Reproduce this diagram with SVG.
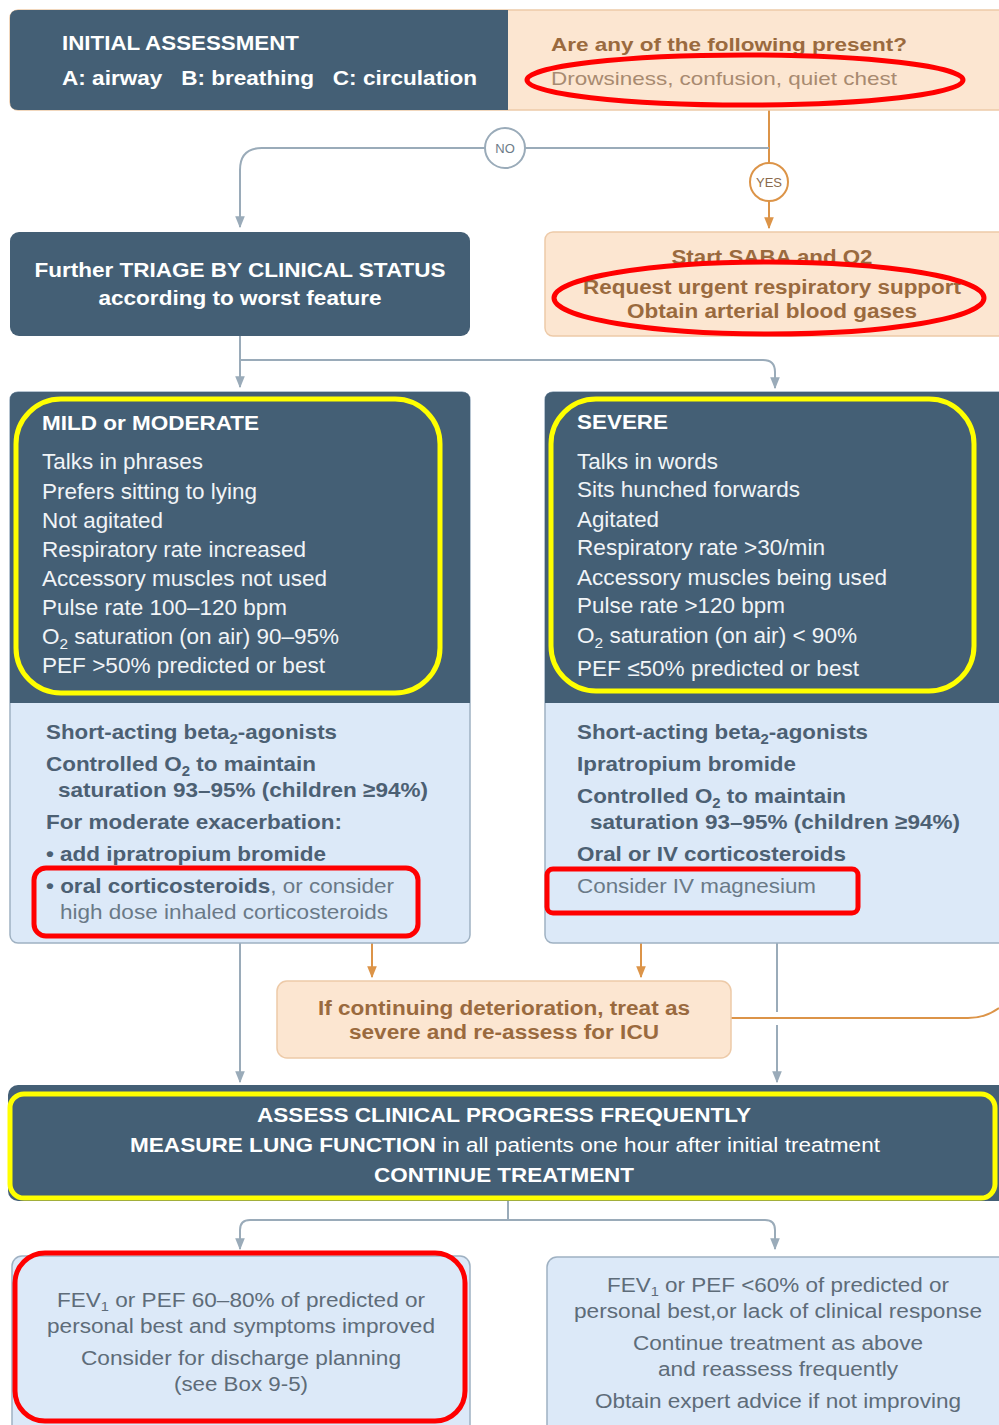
<svg xmlns="http://www.w3.org/2000/svg" width="999" height="1425" viewBox="0 0 999 1425">
  <defs>
    <style>
      .dark { fill: #445f75; }
      .peach { fill: #fce6d1; stroke: #edcaa8; stroke-width: 1.5; }
      .blue { fill: #dce9f8; stroke: #9fb1c2; stroke-width: 1.5; }
      .t { font-family: "Liberation Sans", Arial, sans-serif; }
      .w { fill: #ffffff; }
      .wl { fill: #f1f4f7; }
      .b { font-weight: bold; }
      .brown { fill: #9a6a3e; }
      .brownl { fill: #a88a70; }
      .slate { fill: #4c6073; }
      .grey { fill: #5e6c79; }
      .gline { fill: none; stroke: #9aabb9; stroke-width: 2; }
      .oline { fill: none; stroke: #dc9448; stroke-width: 2; }
      .red { fill: none; stroke: #ff0000; stroke-width: 5; }
      .yel { fill: none; stroke: #ffff00; stroke-width: 5; }
    </style>
    <marker id="ag" viewBox="0 0 10 10" refX="9" refY="5" markerWidth="6" markerHeight="6" orient="auto">
      <path d="M0,1 L10,5 L0,9 z" fill="#9aabb9"/>
    </marker>
    <marker id="ao" viewBox="0 0 10 10" refX="9" refY="5" markerWidth="6" markerHeight="6" orient="auto">
      <path d="M0,1 L10,5 L0,9 z" fill="#dc9448"/>
    </marker>
  </defs>
  <rect width="999" height="1425" fill="#ffffff"/>

  <!-- connectors -->
  <g id="connectors">
    <path class="oline" d="M769,110 V228" marker-end="url(#ao)"/>
    <path class="gline" d="M769,148 H262 Q240,148 240,170 V227" marker-end="url(#ag)"/>
    <path class="gline" d="M240,336 V387" marker-end="url(#ag)"/>
    <path class="gline" d="M240,360 H763 Q775,360 775,372 V388" marker-end="url(#ag)"/>
    <path class="gline" d="M240,943 V1082" marker-end="url(#ag)"/>
    <path class="oline" d="M372,943 V977" marker-end="url(#ao)"/>
    <path class="oline" d="M641,943 V977" marker-end="url(#ao)"/>
    <path class="gline" d="M777,943 V1012 M777,1025 V1082" marker-end="url(#ag)"/>
    <path class="oline" d="M731,1018 H968 Q985,1018 999,1008" stroke="#f0c9a5"/>
    <path class="gline" d="M508,1200 V1220"/>
    <path class="gline" d="M250,1220 H765 Q775,1220 775,1230 V1249" marker-end="url(#ag)"/>
    <path class="gline" d="M250,1220 Q240,1220 240,1230 V1249" marker-end="url(#ag)"/>
    <circle cx="505" cy="148" r="20" fill="#ffffff" stroke="#9aabb9" stroke-width="2"/>
    <text class="t" x="505" y="153" font-size="13" text-anchor="middle" fill="#6d7b88">NO</text>
    <circle cx="769" cy="182" r="19" fill="#ffffff" stroke="#dc9448" stroke-width="2"/>
    <text class="t" x="769" y="187" font-size="13" text-anchor="middle" fill="#8a6a4c">YES</text>
  </g>

  <!-- initial assessment -->
  <g id="initial">
    <rect x="10" y="10" width="1000" height="100" rx="8" class="peach" stroke="none"/>
    <path class="dark" d="M18,10 H508 V110 H18 Q10,110 10,102 V18 Q10,10 18,10 z"/>
    <text class="t w b" x="62" y="50" font-size="20" textLength="237" lengthAdjust="spacingAndGlyphs">INITIAL ASSESSMENT</text>
    <text class="t w b" x="62" y="85" font-size="20" textLength="415" lengthAdjust="spacingAndGlyphs" xml:space="preserve">A: airway   B: breathing   C: circulation</text>
    <text class="t brown b" x="551" y="51" font-size="19" textLength="356" lengthAdjust="spacingAndGlyphs">Are any of the following present?</text>
    <text class="t brownl" x="551" y="85" font-size="19" textLength="346" lengthAdjust="spacingAndGlyphs">Drowsiness, confusion, quiet chest</text>
    <ellipse class="red" cx="745" cy="80" rx="218" ry="25"/>
  </g>

  <!-- triage -->
  <g id="triage">
    <rect x="10" y="232" width="460" height="104" rx="9" class="dark"/>
    <text class="t w b" x="240" y="277" font-size="20" text-anchor="middle" textLength="411" lengthAdjust="spacingAndGlyphs">Further TRIAGE BY CLINICAL STATUS</text>
    <text class="t w b" x="240" y="305" font-size="20" text-anchor="middle" textLength="283" lengthAdjust="spacingAndGlyphs">according to worst feature</text>
  </g>

  <!-- urgent -->
  <g id="urgent">
    <rect x="545" y="232" width="470" height="104" rx="8" class="peach"/>
    <text class="t brown b" x="772" y="264" font-size="20" text-anchor="middle" textLength="201" lengthAdjust="spacingAndGlyphs">Start SABA and O2</text>
    <text class="t brown b" x="772" y="294" font-size="20" text-anchor="middle" textLength="378" lengthAdjust="spacingAndGlyphs">Request urgent respiratory support</text>
    <text class="t brown b" x="772" y="318" font-size="20" text-anchor="middle" textLength="290" lengthAdjust="spacingAndGlyphs">Obtain arterial blood gases</text>
    <ellipse class="red" cx="769" cy="298" rx="215" ry="36"/>
  </g>

  <!-- mild or moderate -->
  <g id="mild">
    <rect x="10" y="392" width="460" height="551" rx="8" class="blue"/>
    <path class="dark" d="M18,392 H462 Q470,392 470,400 V703 H10 V400 Q10,392 18,392 z"/>
    <g class="t wl" font-size="22">
      <text class="b" x="42" y="430" fill="#ffffff" font-size="21" textLength="217" lengthAdjust="spacingAndGlyphs">MILD or MODERATE</text>
      <text x="42" y="469" textLength="161" lengthAdjust="spacingAndGlyphs">Talks in phrases</text>
      <text x="42" y="499" textLength="215" lengthAdjust="spacingAndGlyphs">Prefers sitting to lying</text>
      <text x="42" y="528" textLength="121" lengthAdjust="spacingAndGlyphs">Not agitated</text>
      <text x="42" y="557" textLength="264" lengthAdjust="spacingAndGlyphs">Respiratory rate increased</text>
      <text x="42" y="586" textLength="285" lengthAdjust="spacingAndGlyphs">Accessory muscles not used</text>
      <text x="42" y="615" textLength="245" lengthAdjust="spacingAndGlyphs">Pulse rate 100–120 bpm</text>
      <text x="42" y="644" textLength="297" lengthAdjust="spacingAndGlyphs">O<tspan font-size="15" dy="5">2</tspan><tspan dy="-5"> saturation (on air) 90–95%</tspan></text>
      <text x="42" y="673" textLength="283" lengthAdjust="spacingAndGlyphs">PEF &gt;50% predicted or best</text>
    </g>
    <rect class="yel" x="16" y="399" width="424" height="294" rx="45"/>
    <g class="t slate b" font-size="21">
      <text x="46" y="739" textLength="291" lengthAdjust="spacingAndGlyphs">Short-acting beta<tspan font-size="14" dy="5">2</tspan><tspan dy="-5">-agonists</tspan></text>
      <text x="46" y="771" textLength="270" lengthAdjust="spacingAndGlyphs">Controlled O<tspan font-size="14" dy="5">2</tspan><tspan dy="-5"> to maintain</tspan></text>
      <text x="58" y="797" textLength="370" lengthAdjust="spacingAndGlyphs">saturation 93–95% (children ≥94%)</text>
      <text x="46" y="829" textLength="296" lengthAdjust="spacingAndGlyphs">For moderate exacerbation:</text>
      <text x="46" y="861" textLength="280" lengthAdjust="spacingAndGlyphs">• add ipratropium bromide</text>
      <text x="46" y="893" textLength="348" lengthAdjust="spacingAndGlyphs">• oral corticosteroids<tspan font-weight="normal" fill="#6a7987">, or consider</tspan></text>
      <text x="60" y="919" font-weight="normal" fill="#6a7987" textLength="328" lengthAdjust="spacingAndGlyphs">high dose inhaled corticosteroids</text>
    </g>
    <rect class="red" x="34" y="868" width="384" height="68" rx="12" stroke-width="6"/>
  </g>

  <!-- severe -->
  <g id="severe">
    <rect x="545" y="392" width="470" height="551" rx="8" class="blue"/>
    <path class="dark" d="M553,392 H1015 V703 H545 V400 Q545,392 553,392 z"/>
    <g class="t wl" font-size="22">
      <text class="b" x="577" y="429" fill="#ffffff" font-size="21" textLength="91" lengthAdjust="spacingAndGlyphs">SEVERE</text>
      <text x="577" y="469" textLength="141" lengthAdjust="spacingAndGlyphs">Talks in words</text>
      <text x="577" y="497" textLength="223" lengthAdjust="spacingAndGlyphs">Sits hunched forwards</text>
      <text x="577" y="527" textLength="82" lengthAdjust="spacingAndGlyphs">Agitated</text>
      <text x="577" y="555" textLength="248" lengthAdjust="spacingAndGlyphs">Respiratory rate &gt;30/min</text>
      <text x="577" y="585" textLength="310" lengthAdjust="spacingAndGlyphs">Accessory muscles being used</text>
      <text x="577" y="613" textLength="208" lengthAdjust="spacingAndGlyphs">Pulse rate &gt;120 bpm</text>
      <text x="577" y="643" textLength="280" lengthAdjust="spacingAndGlyphs">O<tspan font-size="15" dy="5">2</tspan><tspan dy="-5"> saturation (on air) &lt; 90%</tspan></text>
      <text x="577" y="676" textLength="282" lengthAdjust="spacingAndGlyphs">PEF ≤50% predicted or best</text>
    </g>
    <rect class="yel" x="551" y="399" width="423" height="292" rx="45"/>
    <g class="t slate b" font-size="21">
      <text x="577" y="739" textLength="291" lengthAdjust="spacingAndGlyphs">Short-acting beta<tspan font-size="14" dy="5">2</tspan><tspan dy="-5">-agonists</tspan></text>
      <text x="577" y="771" textLength="219" lengthAdjust="spacingAndGlyphs">Ipratropium bromide</text>
      <text x="577" y="803" textLength="269" lengthAdjust="spacingAndGlyphs">Controlled O<tspan font-size="14" dy="5">2</tspan><tspan dy="-5"> to maintain</tspan></text>
      <text x="590" y="829" textLength="370" lengthAdjust="spacingAndGlyphs">saturation 93–95% (children ≥94%)</text>
      <text x="577" y="861" textLength="269" lengthAdjust="spacingAndGlyphs">Oral or IV corticosteroids</text>
      <text x="577" y="893" font-weight="normal" fill="#6a7987" textLength="239" lengthAdjust="spacingAndGlyphs">Consider IV magnesium</text>
    </g>
    <rect class="red" x="547" y="869" width="311" height="44" rx="6" stroke-width="6"/>
  </g>

  <!-- deterioration -->
  <g id="deterioration">
    <rect x="277" y="981" width="454" height="77" rx="10" class="peach"/>
    <text class="t brown b" x="504" y="1015" font-size="20" text-anchor="middle" textLength="372" lengthAdjust="spacingAndGlyphs">If continuing deterioration, treat as</text>
    <text class="t brown b" x="504" y="1039" font-size="20" text-anchor="middle" textLength="310" lengthAdjust="spacingAndGlyphs">severe and re-assess for ICU</text>
  </g>

  <!-- assess -->
  <g id="assess">
    <rect x="8" y="1085" width="1000" height="116" rx="10" class="dark"/>
    <text class="t w b" x="504" y="1122" font-size="20" text-anchor="middle" textLength="494" lengthAdjust="spacingAndGlyphs">ASSESS CLINICAL PROGRESS FREQUENTLY</text>
    <text class="t w" x="505" y="1152" font-size="20" text-anchor="middle" textLength="750" lengthAdjust="spacingAndGlyphs"><tspan font-weight="bold">MEASURE LUNG FUNCTION</tspan> in all patients one hour after initial treatment</text>
    <text class="t w b" x="504" y="1182" font-size="20" text-anchor="middle" textLength="260" lengthAdjust="spacingAndGlyphs">CONTINUE TREATMENT</text>
    <rect class="yel" x="10" y="1094" width="985" height="104" rx="14"/>
  </g>

  <!-- improved -->
  <g id="improved">
    <rect x="12" y="1256" width="458" height="180" rx="10" class="blue"/>
    <g class="t grey" font-size="20" text-anchor="middle">
      <text x="241" y="1307" textLength="368" lengthAdjust="spacingAndGlyphs">FEV<tspan font-size="13" dy="4">1</tspan><tspan dy="-4"> or PEF 60–80% of predicted or</tspan></text>
      <text x="241" y="1333" textLength="388" lengthAdjust="spacingAndGlyphs">personal best and symptoms improved</text>
      <text x="241" y="1365" textLength="320" lengthAdjust="spacingAndGlyphs">Consider for discharge planning</text>
      <text x="241" y="1391" textLength="134" lengthAdjust="spacingAndGlyphs">(see Box 9-5)</text>
    </g>
    <rect class="red" x="15" y="1253" width="450" height="168" rx="30" stroke-width="7"/>
  </g>

  <!-- not improving -->
  <g id="notimproving">
    <rect x="547" y="1257" width="470" height="180" rx="10" class="blue"/>
    <g class="t grey" font-size="20" text-anchor="middle">
      <text x="778" y="1292" textLength="342" lengthAdjust="spacingAndGlyphs">FEV<tspan font-size="13" dy="4">1</tspan><tspan dy="-4"> or PEF &lt;60% of predicted or</tspan></text>
      <text x="778" y="1318" textLength="408" lengthAdjust="spacingAndGlyphs">personal best,or lack of clinical response</text>
      <text x="778" y="1350" textLength="290" lengthAdjust="spacingAndGlyphs">Continue treatment as above</text>
      <text x="778" y="1376" textLength="240" lengthAdjust="spacingAndGlyphs">and reassess frequently</text>
      <text x="778" y="1408" textLength="366" lengthAdjust="spacingAndGlyphs">Obtain expert advice if not improving</text>
    </g>
  </g>
</svg>
